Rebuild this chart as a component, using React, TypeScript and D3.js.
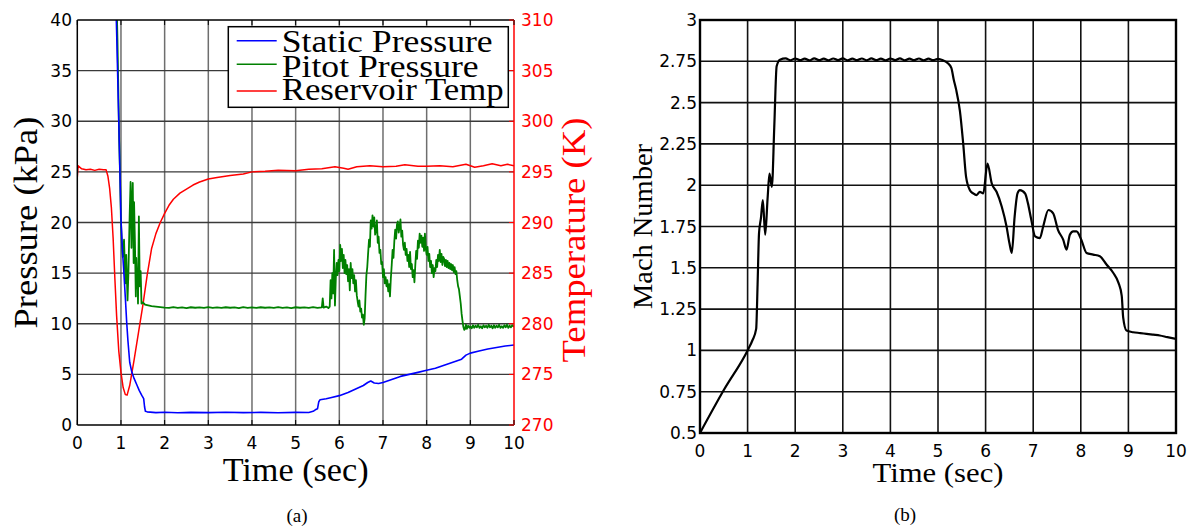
import React from 'react';
import * as d3 from 'd3';

// ---- data ----
const timeTicks = [0, 1, 2, 3, 4, 5, 6, 7, 8, 9, 10];
const pressureTicks = [0, 5, 10, 15, 20, 25, 30, 35, 40];
const tempTicks = [270, 275, 280, 285, 290, 295, 300, 305, 310];
const machTicks = [0.5, 0.75, 1, 1.25, 1.5, 1.75, 2, 2.25, 2.5, 2.75, 3];
const legendLabels = ['Static Pressure', 'Pitot Pressure', 'Reservoir Temp'];

// static pressure, kPa
const staticPressure: [number, number][] = [
  [0.88, 42], [0.9, 39], [0.95, 30], [1.0, 20.4], [1.03, 17.5], [1.06, 15.5], [1.1, 12.6],
  [1.13, 10.2], [1.16, 8.3], [1.2, 6.2], [1.25, 5.2], [1.3, 4.6], [1.36, 4.0], [1.42, 3.4],
  [1.48, 2.9], [1.52, 2.6], [1.54, 1.8], [1.56, 1.35], [1.6, 1.3], [1.8, 1.22], [2.0, 1.26],
  [2.3, 1.21], [2.6, 1.25], [3.0, 1.22], [3.4, 1.26], [3.8, 1.22], [4.2, 1.25], [4.6, 1.21],
  [5.0, 1.25], [5.3, 1.23], [5.4, 1.35], [5.45, 1.5], [5.5, 1.6], [5.53, 2.3], [5.56, 2.5],
  [5.7, 2.6], [5.8, 2.7], [6.0, 2.9], [6.2, 3.2], [6.4, 3.6], [6.55, 3.9], [6.65, 4.2],
  [6.72, 4.35], [6.8, 4.15], [6.9, 4.1], [7.0, 4.2], [7.2, 4.5], [7.4, 4.8], [7.6, 5.0],
  [7.8, 5.2], [8.0, 5.4], [8.2, 5.6], [8.4, 5.9], [8.6, 6.2], [8.8, 6.5], [8.9, 6.9],
  [9.0, 7.1], [9.2, 7.3], [9.4, 7.5], [9.6, 7.65], [9.8, 7.8], [10, 7.9],
];

// pitot pressure, kPa
const pitotPressure: [number, number][] = [
  [0.9, 42], [0.92, 38], [0.96, 28], [0.98, 24.5], [1.0, 20], [1.02, 18], [1.04, 16.6],
  [1.07, 18.3], [1.09, 15.5], [1.1, 14.0], [1.12, 16.8], [1.15, 12.3], [1.17, 15],
  [1.2, 20.9], [1.22, 24.0], [1.24, 17.5], [1.25, 21], [1.27, 23.9], [1.29, 16], [1.3, 22],
  [1.32, 18], [1.34, 12.7], [1.35, 16.5], [1.37, 13.5], [1.38, 15], [1.39, 12.0],
  [1.41, 20.6], [1.43, 13.7], [1.45, 15.2], [1.47, 12.0], [1.5, 12.1], [1.55, 11.9],
  [1.6, 11.85], [1.7, 11.75], [1.8, 11.7], [1.9, 11.65], [2.0, 11.6], [2.1, 11.56],
  [2.2, 11.64], [2.3, 11.57], [2.4, 11.62], [2.5, 11.55], [2.6, 11.63], [2.7, 11.58],
  [2.8, 11.62], [2.9, 11.56], [3.0, 11.64], [3.1, 11.57], [3.2, 11.61], [3.3, 11.56],
  [3.4, 11.63], [3.5, 11.58], [3.6, 11.62], [3.7, 11.55], [3.8, 11.64], [3.9, 11.57],
  [4.0, 11.62], [4.1, 11.56], [4.2, 11.63], [4.3, 11.58], [4.4, 11.61], [4.5, 11.56],
  [4.6, 11.64], [4.7, 11.57], [4.8, 11.62], [4.9, 11.55], [5.0, 11.63], [5.1, 11.58],
  [5.2, 11.62], [5.3, 11.56], [5.4, 11.64], [5.5, 11.57], [5.6, 11.62], [5.62, 12.5],
  [5.64, 11.6], [5.7, 11.7], [5.75, 11.55], [5.78, 11.7], [5.8, 14.3], [5.82, 12.5],
  [5.84, 15.0], [5.86, 13.0], [5.88, 17.3], [5.9, 11.8], [5.92, 14.5], [5.94, 16.0],
  [5.96, 14.8], [5.98, 16.3], [6.0, 15.2], [6.02, 17.8], [6.04, 16.2], [6.06, 17.4],
  [6.08, 15.5], [6.1, 16.8], [6.12, 15.0], [6.14, 16.3], [6.16, 14.9], [6.18, 15.8],
  [6.2, 14.2], [6.22, 15.4], [6.24, 13.3], [6.26, 16.0], [6.28, 14.5], [6.3, 15.4],
  [6.32, 14.0], [6.34, 14.8], [6.36, 13.2], [6.38, 14.3], [6.4, 12.8], [6.42, 12.2],
  [6.44, 11.7], [6.46, 12.3], [6.48, 11.2], [6.5, 11.5], [6.52, 10.6], [6.54, 10.9],
  [6.56, 9.9], [6.58, 10.5], [6.6, 12.8], [6.62, 14.8], [6.64, 15.6], [6.66, 17.0],
  [6.68, 18.3], [6.7, 17.6], [6.72, 20.2], [6.74, 19.4], [6.76, 20.7], [6.78, 19.6],
  [6.8, 20.5], [6.82, 18.8], [6.84, 19.2], [6.86, 20.2], [6.88, 18.0], [6.9, 18.6],
  [6.92, 17.0], [6.94, 17.3], [6.96, 15.9], [6.98, 16.1], [7.0, 14.6], [7.02, 15.4],
  [7.04, 14.0], [7.06, 14.6], [7.08, 13.7], [7.1, 14.3], [7.12, 13.2], [7.14, 13.9],
  [7.16, 12.7], [7.18, 14.5], [7.2, 15.8], [7.22, 17.3], [7.24, 16.5], [7.26, 18.2],
  [7.28, 19.3], [7.3, 18.4], [7.32, 19.8], [7.34, 20.1], [7.36, 19.0], [7.38, 19.6],
  [7.4, 20.3], [7.42, 18.6], [7.44, 19.2], [7.46, 17.8], [7.48, 17.3], [7.5, 18.0],
  [7.52, 16.8], [7.54, 17.4], [7.56, 16.2], [7.58, 16.8], [7.6, 15.6], [7.62, 17.1],
  [7.64, 15.4], [7.66, 15.9], [7.68, 14.6], [7.7, 15.3], [7.72, 14.1], [7.74, 15.8],
  [7.76, 17.2], [7.78, 16.4], [7.8, 18.2], [7.82, 17.5], [7.84, 18.9], [7.86, 18.0],
  [7.88, 18.7], [7.9, 17.6], [7.92, 18.5], [7.94, 17.2], [7.96, 18.9], [7.98, 17.4],
  [8.0, 16.8], [8.02, 17.6], [8.04, 16.2], [8.06, 16.9], [8.08, 15.6], [8.1, 16.2],
  [8.12, 15.0], [8.14, 15.8], [8.16, 14.6], [8.18, 15.5], [8.2, 15.2], [8.22, 16.3],
  [8.24, 15.6], [8.26, 16.8], [8.28, 16.2], [8.3, 17.3], [8.32, 16.1], [8.34, 16.9],
  [8.36, 15.8], [8.38, 16.6], [8.4, 16.4], [8.42, 15.7], [8.44, 16.3], [8.46, 15.6],
  [8.48, 16.2], [8.5, 15.5], [8.52, 16.0], [8.54, 15.4], [8.56, 15.9], [8.58, 15.3],
  [8.6, 15.8], [8.62, 15.1], [8.64, 15.6], [8.66, 14.9], [8.68, 15.2], [8.7, 14.3],
  [8.72, 13.7], [8.74, 13.4], [8.76, 12.7], [8.78, 12.0], [8.8, 11.0], [8.82, 10.3],
  [8.84, 9.7], [8.86, 9.4], [8.88, 9.5], [8.9, 9.9], [8.92, 9.5], [8.95, 9.8], [8.98, 9.6],
  [9.0, 9.75], [9.03, 9.55], [9.06, 9.85], [9.09, 9.6], [9.12, 9.8], [9.15, 9.65],
  [9.18, 9.9], [9.21, 9.6], [9.24, 9.75], [9.27, 9.55], [9.3, 9.85], [9.33, 9.65],
  [9.36, 9.8], [9.39, 9.6], [9.42, 9.9], [9.45, 9.65], [9.48, 9.8], [9.51, 9.55],
  [9.54, 9.85], [9.57, 9.6], [9.6, 9.8], [9.63, 9.65], [9.66, 9.9], [9.69, 9.6],
  [9.72, 9.75], [9.75, 9.6], [9.78, 9.85], [9.81, 9.65], [9.84, 9.9], [9.87, 9.6],
  [9.9, 9.8], [9.93, 9.65], [9.96, 9.85], [10, 9.7],
];

// reservoir temperature, K
const reservoirTemp: [number, number][] = [
  [0, 294.5], [0.02, 295.6], [0.1, 295.3], [0.2, 295.2], [0.3, 295.25], [0.4, 295.15],
  [0.5, 295.25], [0.6, 295.2], [0.66, 295.2], [0.7, 294.6], [0.74, 293.4], [0.78, 291.5],
  [0.82, 288.5], [0.86, 284.5], [0.9, 280.8], [0.95, 277.3], [1.0, 275.2], [1.05, 273.7],
  [1.1, 273.0], [1.14, 272.95], [1.2, 273.9], [1.3, 276.4], [1.4, 279.1], [1.5, 281.8],
  [1.6, 284.8], [1.7, 287.4], [1.8, 288.9], [1.9, 290.0], [2.0, 290.9], [2.1, 291.7],
  [2.2, 292.3], [2.35, 292.9], [2.5, 293.3], [2.65, 293.7], [2.8, 294.0], [3.0, 294.3],
  [3.2, 294.45], [3.5, 294.65], [3.8, 294.8], [4.0, 295.0], [4.3, 295.05], [4.6, 295.15],
  [5.0, 295.1], [5.3, 295.25], [5.6, 295.3], [5.9, 295.5], [6.1, 295.35], [6.2, 295.25],
  [6.4, 295.5], [6.7, 295.6], [7.0, 295.5], [7.3, 295.55], [7.5, 295.7], [7.8, 295.55],
  [8.0, 295.55], [8.3, 295.6], [8.6, 295.5], [8.9, 295.75], [9.1, 295.45], [9.3, 295.6],
  [9.5, 295.8], [9.7, 295.6], [9.85, 295.75], [10, 295.6],
];

// Mach number
const machNumber: [number, number][] = [
  [0, 0.5], [0.5, 0.76], [1.0, 1.0], [1.1, 1.06], [1.18, 1.13], [1.21, 1.4], [1.24, 1.71],
  [1.28, 1.8], [1.32, 1.91], [1.37, 1.7], [1.42, 1.92], [1.46, 2.07], [1.51, 1.99],
  [1.56, 2.35], [1.61, 2.72], [1.68, 2.76], [1.8, 2.768], [1.9, 2.756], [2.0, 2.767],
  [2.1, 2.757], [2.2, 2.766], [2.3, 2.755], [2.4, 2.768], [2.5, 2.757], [2.6, 2.766],
  [2.7, 2.756], [2.8, 2.767], [2.9, 2.757], [3.0, 2.768], [3.1, 2.756], [3.2, 2.766],
  [3.3, 2.757], [3.4, 2.767], [3.5, 2.756], [3.6, 2.768], [3.7, 2.757], [3.8, 2.766],
  [3.9, 2.755], [4.0, 2.767], [4.1, 2.757], [4.2, 2.768], [4.3, 2.756], [4.4, 2.766],
  [4.5, 2.757], [4.6, 2.767], [4.7, 2.755], [4.8, 2.766], [4.9, 2.757], [5.0, 2.765],
  [5.11, 2.755], [5.2, 2.74], [5.28, 2.71], [5.33, 2.64], [5.38, 2.58], [5.46, 2.45],
  [5.53, 2.25], [5.59, 2.05], [5.67, 1.97], [5.74, 1.95], [5.81, 1.94], [5.88, 1.96],
  [5.95, 1.95], [6.04, 2.13], [6.13, 2.01], [6.23, 1.96], [6.34, 1.87], [6.44, 1.75],
  [6.5, 1.65], [6.55, 1.59], [6.61, 1.81], [6.67, 1.95], [6.72, 1.97], [6.83, 1.95],
  [6.89, 1.89], [6.96, 1.79], [7.04, 1.69], [7.14, 1.68], [7.21, 1.75], [7.32, 1.85],
  [7.42, 1.83], [7.52, 1.73], [7.63, 1.67], [7.7, 1.61], [7.77, 1.7], [7.84, 1.72],
  [7.91, 1.72], [8.01, 1.67], [8.12, 1.59], [8.26, 1.58], [8.4, 1.57], [8.54, 1.52],
  [8.68, 1.47], [8.79, 1.41], [8.86, 1.33], [8.89, 1.2], [8.96, 1.12], [9.1, 1.11],
  [9.25, 1.105], [9.38, 1.1], [9.52, 1.095], [9.66, 1.09], [9.82, 1.08], [10, 1.07],
];

const seriesColors = ['#0000ff', '#008000', '#ff0000'];

const W = 1190;
const H = 527;
const serif = "'Liberation Serif', 'Times New Roman', serif";
const sans = "'DejaVu Sans', Arial, sans-serif";

export default function App() {
  // left panel
  const xL = d3.scaleLinear().domain([0, 10]).range([77.3, 514]);
  const yP = d3.scaleLinear().domain([0, 40]).range([425, 20]);
  const yT = d3.scaleLinear().domain([270, 310]).range([425, 20]);
  // right panel
  const xR = d3.scaleLinear().domain([0, 10]).range([700, 1176]);
  const yM = d3.scaleLinear().domain([0.5, 3]).range([433, 20]);

  const lineP = d3.line<[number, number]>().x(d => xL(d[0])).y(d => yP(d[1]));
  const lineT = d3.line<[number, number]>().x(d => xL(d[0])).y(d => yT(d[1]));
  const lineM = d3.line<[number, number]>().x(d => xR(d[0])).y(d => yM(d[1])).curve(d3.curveMonotoneX);

  const [l0, l1] = xL.range();
  const [pb, pt] = yP.range();
  const [r0, r1] = xR.range();
  const [mb, mt] = yM.range();

  const legendLineY = [40.7, 64.3, 91];
  const legendTextY = [51.7, 76.7, 100];
  const legendTextW = [211, 197, 222];

  return (
    <svg width={W} height={H} style={{ position: 'absolute', left: 0, top: 0, background: '#fff' }}>
      <defs>
        <clipPath id="clipL">
          <rect x={l0} y={pt} width={l1 - l0} height={pb - pt} />
        </clipPath>
        <clipPath id="clipR">
          <rect x={r0} y={mt} width={r1 - r0} height={mb - mt} />
        </clipPath>
      </defs>

      {/* ---------- (a) ---------- */}
      <g>
        {timeTicks.slice(1, -1).map(t => (
          <line key={'vg' + t} x1={xL(t)} x2={xL(t)} y1={pt} y2={pb} stroke="#6e6e6e" strokeWidth={1.5} />
        ))}
        {pressureTicks.slice(1, -1).map(p => (
          <line key={'hg' + p} x1={l0} x2={l1} y1={yP(p)} y2={yP(p)} stroke="#3a3a3a" strokeWidth={1.4} />
        ))}

        <g clipPath="url(#clipL)" fill="none" strokeLinejoin="round">
          <path d={lineT(reservoirTemp) || ''} stroke={seriesColors[2]} strokeWidth={1.5} />
          <path d={lineP(pitotPressure) || ''} stroke={seriesColors[1]} strokeWidth={1.8} />
          <path d={lineP(staticPressure) || ''} stroke={seriesColors[0]} strokeWidth={1.6} />
        </g>

        {/* axes */}
        <line x1={l0} x2={l1} y1={pt} y2={pt} stroke="#000" strokeWidth={1.5} />
        <line x1={l0} x2={l1} y1={pb} y2={pb} stroke="#000" strokeWidth={1.5} />
        <line x1={l0} x2={l0} y1={pt} y2={pb} stroke="#000" strokeWidth={1.5} />
        <line x1={l1} x2={l1} y1={pt} y2={pb} stroke="#ff0000" strokeWidth={1.5} />
        {timeTicks.map(t => (
          <g key={'xt' + t}>
            <line x1={xL(t)} x2={xL(t)} y1={pb} y2={pb - 5} stroke="#000" strokeWidth={1} />
            <line x1={xL(t)} x2={xL(t)} y1={pt} y2={pt + 5} stroke="#000" strokeWidth={1} />
            <text x={xL(t)} y={449} textAnchor="middle" fontFamily={sans} fontSize={17} fill="#000">{t}</text>
          </g>
        ))}
        {pressureTicks.map(p => (
          <text key={'pt' + p} x={72} y={yP(p) + 6} textAnchor="end" fontFamily={sans} fontSize={17} fill="#000">{p}</text>
        ))}
        {tempTicks.map(v => (
          <g key={'tt' + v}>
            <line x1={l1} x2={l1 - 5} y1={yT(v)} y2={yT(v)} stroke="#ff0000" strokeWidth={1} />
            <text x={521} y={yT(v) + 6} textAnchor="start" fontFamily={sans} fontSize={17} fill="#ff0000">{v}</text>
          </g>
        ))}

        <text x={(l0 + l1) / 2} y={481} textAnchor="middle" fontFamily={serif} fontSize={33} textLength={146} lengthAdjust="spacingAndGlyphs">Time (sec)</text>
        <text transform={`translate(37,${(pt + pb) / 2}) rotate(-90)`} textAnchor="middle" fontFamily={serif} fontSize={33} textLength={212} lengthAdjust="spacingAndGlyphs">Pressure (kPa)</text>
        <text transform={`translate(585,240) rotate(-90)`} textAnchor="middle" fontFamily={serif} fontSize={33} fill="#ff0000" textLength={245} lengthAdjust="spacingAndGlyphs">Temperature (K)</text>

        {/* legend */}
        <rect x={228.3} y={26.7} width={280} height={80.6} fill="#fff" stroke="#000" strokeWidth={1.5} />
        {legendLabels.map((lab, i) => (
          <g key={lab}>
            <line x1={236.7} x2={276.7} y1={legendLineY[i]} y2={legendLineY[i]} stroke={seriesColors[i]} strokeWidth={1.5} />
            <text x={281.7} y={legendTextY[i]} fontFamily={serif} fontSize={32} textLength={legendTextW[i]} lengthAdjust="spacingAndGlyphs">{lab}</text>
          </g>
        ))}

        <text x={297} y={522} textAnchor="middle" fontFamily={serif} fontSize={19}>(a)</text>
      </g>

      {/* ---------- (b) ---------- */}
      <g>
        {timeTicks.slice(1, -1).map(t => (
          <line key={'rvg' + t} x1={xR(t)} x2={xR(t)} y1={mt} y2={mb} stroke="#111" strokeWidth={1.6} />
        ))}
        {machTicks.slice(1, -1).map(m => (
          <line key={'rhg' + m} x1={r0} x2={r1} y1={yM(m)} y2={yM(m)} stroke="#111" strokeWidth={1.6} />
        ))}

        <path clipPath="url(#clipR)" d={lineM(machNumber) || ''} fill="none" stroke="#000" strokeWidth={2.2} strokeLinejoin="round" />

        <rect x={r0} y={mt} width={r1 - r0} height={mb - mt} fill="none" stroke="#000" strokeWidth={2.4} />
        {timeTicks.map(t => (
          <text key={'rxt' + t} x={xR(t)} y={457} textAnchor="middle" fontFamily={sans} fontSize={17} fill="#000">{t}</text>
        ))}
        {machTicks.map(m => (
          <text key={'ryt' + m} x={697} y={yM(m) + 6} textAnchor="end" fontFamily={sans} fontSize={17} fill="#000">{String(m)}</text>
        ))}

        <text x={(r0 + r1) / 2} y={482} textAnchor="middle" fontFamily={serif} fontSize={28} textLength={131} lengthAdjust="spacingAndGlyphs">Time (sec)</text>
        <text transform={`translate(652,${(mt + mb) / 2}) rotate(-90)`} textAnchor="middle" fontFamily={serif} fontSize={28} textLength={165} lengthAdjust="spacingAndGlyphs">Mach Number</text>

        <text x={905} y={521} textAnchor="middle" fontFamily={serif} fontSize={19}>(b)</text>
      </g>
    </svg>
  );
}
